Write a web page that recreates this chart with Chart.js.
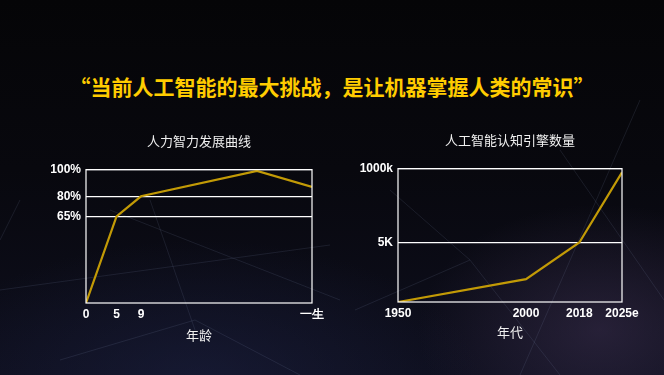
<!DOCTYPE html>
<html lang="zh">
<head>
<meta charset="UTF-8">
<title>人工智能的常识挑战</title>
<script src="https://cdn.jsdelivr.net/npm/chart.js@4.4.9/dist/chart.umd.min.js"></script>
<style>
    html, body { margin: 0; padding: 0; }
    body {
        width: 664px; height: 375px; overflow: hidden; position: relative;
        background:
            radial-gradient(ellipse 260px 180px at 600px 330px, rgba(70, 55, 90, 0.45), rgba(0,0,0,0) 70%),
            radial-gradient(ellipse 400px 200px at 200px 380px, rgba(30, 35, 70, 0.5), rgba(0,0,0,0) 70%),
            linear-gradient(180deg, #050507 0%, #08080e 45%, #0e0f1e 100%);
        font-family: "Noto Sans CJK SC", "Liberation Sans", sans-serif;
    }
    .bg { position: absolute; left: 0; top: 0; }
    .headline {
        position: absolute; left: 0; width: 664px; top: 71px;
        text-align: center; color: #ffcc00; font-size: 21px; font-weight: 700;
    }
    .box { position: absolute; }
</style>
</head>
<body>
<svg class="bg" width="664" height="375" stroke="rgba(150,160,200,0.13)" stroke-width="1">
    <line x1="0" y1="290" x2="330" y2="245"/>
    <line x1="60" y1="360" x2="195" y2="320"/>
    <line x1="195" y1="320" x2="300" y2="375"/>
    <line x1="150" y1="200" x2="195" y2="330"/>
    <line x1="110" y1="210" x2="340" y2="300"/>
    <line x1="355" y1="310" x2="470" y2="260"/>
    <line x1="470" y1="260" x2="560" y2="375"/>
    <line x1="640" y1="100" x2="520" y2="375"/>
    <line x1="390" y1="190" x2="470" y2="260"/>
    <line x1="560" y1="150" x2="664" y2="300"/>
    <line x1="20" y1="200" x2="0" y2="240"/>
</svg>

<div class="headline">“当前人工智能的最大挑战，是让机器掌握人类的常识”</div>

<div class="box" style="left:30px; top:130px; width:300px; height:220px;">
    <canvas id="growthChart"></canvas>
</div>
<div class="box" style="left:340px; top:130px; width:314px; height:220px;">
    <canvas id="engineChart"></canvas>
</div>

<script>
// 人力智力发展曲线
const ages = [0, 5, 9, 28, 37];
const intelligence = [0, 65, 80, 99, 87];
const ageTicks = [0, 5, 9, 37];
const ageTickLabels = ['0', '5', '9', '一生'];
const pctTicks = [65, 80, 100];

// 人工智能认知引擎数量 (x 轴按原图位置排列)
const yearSlots = [0, 12, 17, 21];
const yearLabels = ['1950', '2000', '2018', '2025e'];
const engines = [70, 360, 5000, 760000];
const countTicks = [5000, 1000000];
const countTickLabels = ['5K', '1000k'];

const gold = '#c29a06';
const white = '#ffffff';
const tickFont = { family: 'Liberation Sans', size: 12, weight: 'bold' };
const titleFont = { family: 'Noto Sans CJK SC', size: 13, weight: 'normal' };

Chart.defaults.color = '#f2f2f2';
Chart.defaults.animation = false;

// 图表区外框
const frame = {
    id: 'frame',
    afterDraw(chart) {
        const a = chart.chartArea, ctx = chart.ctx;
        ctx.save();
        ctx.strokeStyle = white;
        ctx.lineWidth = 1.2;
        ctx.strokeRect(a.left, a.top, a.right - a.left, a.bottom - a.top);
        ctx.restore();
    }
};

function buildChart(id, opts) {
    return new Chart(document.getElementById(id), {
        type: 'line',
        data: {
            datasets: [{
                data: opts.xs.map((x, i) => ({ x: x, y: opts.ys[i] })),
                borderColor: gold,
                borderWidth: 2.2,
                pointRadius: 0,
                tension: 0
            }]
        },
        options: {
            responsive: true,
            maintainAspectRatio: false,
            layout: { padding: { left: 0, right: opts.padRight, top: 0, bottom: 0 } },
            plugins: {
                legend: { display: false },
                tooltip: { enabled: false },
                title: {
                    display: true, text: opts.title, fullSize: false,
                    color: '#f0f0f0', font: titleFont,
                    padding: { top: opts.titleTop, bottom: opts.titleBottom }
                }
            },
            scales: {
                x: {
                    type: 'linear', min: opts.xs[0], max: opts.xMax,
                    afterBuildTicks: s => { s.ticks = opts.xTicks.map(v => ({ value: v })); },
                    afterFit: s => { s.height = opts.xHeight; },
                    ticks: {
                        autoSkip: false, maxRotation: 0, padding: 4,
                        color: white, font: tickFont,
                        callback: v => opts.xLabels[opts.xTicks.indexOf(v)]
                    },
                    grid: { display: false, drawTicks: false },
                    border: { display: false },
                    title: {
                        display: true, text: opts.xTitle, color: '#f0f0f0', font: titleFont,
                        padding: { top: 0, bottom: opts.xTitleBottom }
                    }
                },
                y: {
                    type: opts.yType, min: opts.yMin, max: opts.yMax,
                    afterBuildTicks: s => { s.ticks = opts.yTicks.map(v => ({ value: v })); },
                    afterFit: s => { s.width = opts.yWidth; },
                    ticks: {
                        autoSkip: false, padding: 5,
                        color: white, font: tickFont,
                        callback: v => opts.yLabels[opts.yTicks.indexOf(v)]
                    },
                    grid: { color: white, lineWidth: 1.2, drawTicks: false },
                    border: { display: false }
                }
            }
        },
        plugins: [frame]
    });
}

buildChart('growthChart', {
    title: '人力智力发展曲线', titleTop: 3, titleBottom: 21,
    xs: ages, ys: intelligence, xMax: 37,
    xTicks: ageTicks, xLabels: ageTickLabels, xTitle: '年龄',
    xHeight: 47, xTitleBottom: 7,
    yType: 'linear', yMin: 0, yMax: 100,
    yTicks: pctTicks, yLabels: pctTicks.map(v => v + '%'),
    yWidth: 56, padRight: 18
});

buildChart('engineChart', {
    title: '人工智能认知引擎数量', titleTop: 2, titleBottom: 21,
    xs: yearSlots, ys: engines, xMax: 21,
    xTicks: yearSlots, xLabels: yearLabels, xTitle: '年代',
    xHeight: 48, xTitleBottom: 10,
    yType: 'logarithmic', yMin: 70, yMax: 1000000,
    yTicks: countTicks, yLabels: countTickLabels,
    yWidth: 58, padRight: 32
});
</script>
</body>
</html>
